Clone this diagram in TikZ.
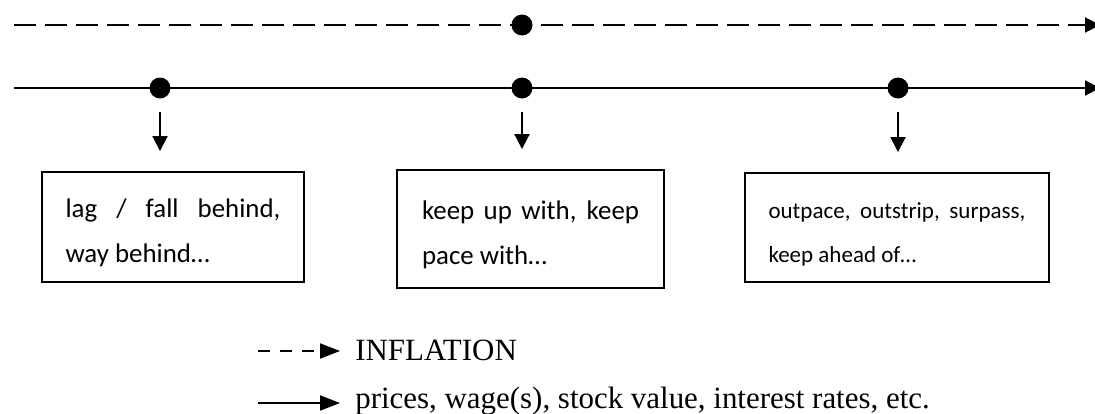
\documentclass[tikz,border=0pt]{standalone}
\usepackage{fontspec}
\setmainfont{Liberation Serif}
\newfontfamily\boxfont{Carlito}
\usetikzlibrary{
  arrows.meta,
  positioning,
  calc
}
\tikzset{
  dot/.style={
    circle,
    fill=black,
    inner sep = 0pt,
    minimum size = 0.42cm
  }
}

\begin{document}
\begin{tikzpicture}[
      x=0.02cm, y=-0.02cm,
      >={Triangle[length=0.3cm, width=0.3cm]},
      timeline/.style={->, line width=1.1pt},
      dashline/.style={timeline, dash pattern=on 0.44cm off 0.18cm},
      drop/.style={->, line width=1.1pt, shorten <=0.26cm, shorten >=0.4cm},
      phrase/.style={
        draw,
        line width=1.1pt,
        align=justify,
        inner ysep=0pt,
        font=\boxfont\fontsize{15.3pt}{25.6pt}\selectfont
      },
      legend/.style={
        inner sep=0pt,
        anchor=base west,
        font=\fontsize{17.6pt}{20pt}\selectfont
      },
      legarrow/.style={
        -{Triangle[length=0.4cm, width=0.3cm]},
        line width=1.1pt,
        shorten >=0.3cm
      }
      ]
      \useasboundingbox (0,0) rectangle (1095,413);

      % the two lines
      \coordinate (inflStart) at (14,25);
      \coordinate (inflEnd) at (1100,25);
      \coordinate (priceStart) at (14,88);
      \coordinate (priceEnd) at (1100,88);
      \draw[dashline] (inflStart) -- (inflEnd);
      \draw[timeline] (priceStart) -- (priceEnd);

      \node[dot] (infl) at (522,25) {};
      \foreach \i/\x in {1/160, 2/522, 3/898}{
        \node[dot] (p\i) at (\x,88) {};
      }

      % the three boxes
      \node[phrase, text width=4.3cm, inner xsep=0.47cm, minimum height=2.2cm]
        (behind) at (173,227) {\rule{0pt}{1.1em}lag / fall behind,\linebreak way behind\dots};
      \node[phrase, text width=4.34cm, inner xsep=0.5cm, minimum height=2.36cm]
        (pace) at (530.5,229) {\rule{0pt}{1.1em}keep up with, keep\linebreak pace with\dots};
      \node[phrase, text width=5.14cm, inner xsep=0.47cm, minimum height=2.18cm,
        font=\boxfont\fontsize{13.1pt}{25pt}\selectfont]
        (ahead) at (897,227.5) {\rule{0pt}{1.3em}outpace, outstrip, surpass,\linebreak keep ahead of\dots};

      \foreach \i/\b in {1/behind, 2/pace, 3/ahead}{
        \draw[drop] (p\i) -- (p\i |- \b.north);
      }

      % legend
      \node[legend] (inflLbl) at (355,360) {INFLATION};
      \node[legend] (priceLbl) at (355,408) {prices, wage(s), stock value, interest rates, etc.};
      \coordinate (legDash) at (258,351);
      \coordinate (legLine) at (258,403);
      \draw[legarrow, dash pattern=on 0.24cm off 0.2cm] (legDash) -- (legDash -| inflLbl.west);
      \draw[legarrow] (legLine) -- (legLine -| priceLbl.west);
    \end{tikzpicture}
\end{document}
